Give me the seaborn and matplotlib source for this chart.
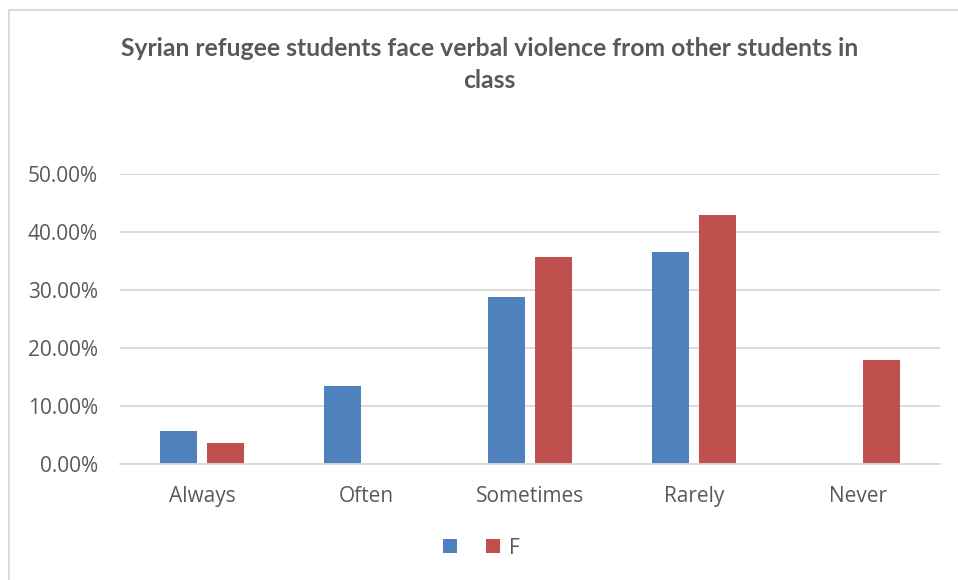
import matplotlib
matplotlib.use("Agg")
import matplotlib.pyplot as plt
from matplotlib.patches import Patch, Rectangle
from matplotlib.ticker import FuncFormatter
import pandas as pd
import seaborn as sns

# Survey responses, share of students per answer
categories = ["Always", "Often", "Sometimes", "Rarely", "Never"]
series_names = ["", "F"]
values_first = [0.0577, 0.1346, 0.2885, 0.3654, 0.0]
values_f = [0.0357, 0.0, 0.3571, 0.4286, 0.1786]
title = "Syrian refugee students face verbal violence from other students in\nclass"
y_ticks = [0.0, 0.1, 0.2, 0.3, 0.4, 0.5]

colors = ["#4F81BD", "#C0504D"]
text_color = "#595959"
grid_color = "#D9D9D9"

df = pd.DataFrame({
    "answer": categories * 2,
    "series": [series_names[0]] * len(categories) + [series_names[1]] * len(categories),
    "share": values_first + values_f,
})

sns.set_theme(style="white")
plt.rcParams["font.family"] = ["Open Sans", "DejaVu Sans"]

W, H = 958, 580
fig = plt.figure(figsize=(W / 100, H / 100), dpi=100)
ax = fig.add_axes([120 / W, (H - 464) / H, 820 / W, 290 / H])

sns.barplot(
    data=df, x="answer", y="share", hue="series",
    order=categories, hue_order=series_names,
    palette=colors, saturation=1, width=0.572, gap=0.21, linewidth=0,
    legend=False, ax=ax,
)

ax.set_ylim(0, 0.5)
ax.set_xlim(-0.5, len(categories) - 0.5)
ax.set_yticks(y_ticks)
ax.yaxis.set_major_formatter(FuncFormatter(lambda v, _: f"{v * 100:.2f}%"))
ax.grid(axis="y", color=grid_color, linewidth=1.3)
ax.set_axisbelow(True)
for side in ["left", "right", "top"]:
    ax.spines[side].set_visible(False)
ax.spines["bottom"].set_color(grid_color)
ax.spines["bottom"].set_linewidth(1.3)
ax.tick_params(axis="both", length=0, labelsize=15, colors=text_color)
ax.tick_params(axis="y", pad=16)
ax.tick_params(axis="x", pad=16)
ax.set_xlabel("")
ax.set_ylabel("")

fig.text(489.5 / W, 1 - 37 / H, title, ha="center", va="top",
         fontsize=17.8, fontweight="bold", color=text_color, linespacing=1.5,
         family=["Lato", "DejaVu Sans"])

handles = [Patch(facecolor=c, edgecolor="none") for c in colors]
fig.legend(handles, series_names, loc="center", bbox_to_anchor=(481 / W, 1 - 548 / H),
           ncol=2, frameon=False, fontsize=15, labelcolor=text_color,
           handlelength=0.68, handleheight=0.68, handletextpad=0.4, columnspacing=1.0)

# chart-area frame
fig.add_artist(Rectangle((9 / W, -0.1), 1.5, (H - 10) / H + 0.1,
                         transform=fig.transFigure, fill=False,
                         edgecolor=grid_color, linewidth=1.3))

fig.savefig("out.png", dpi=100, facecolor="white")
